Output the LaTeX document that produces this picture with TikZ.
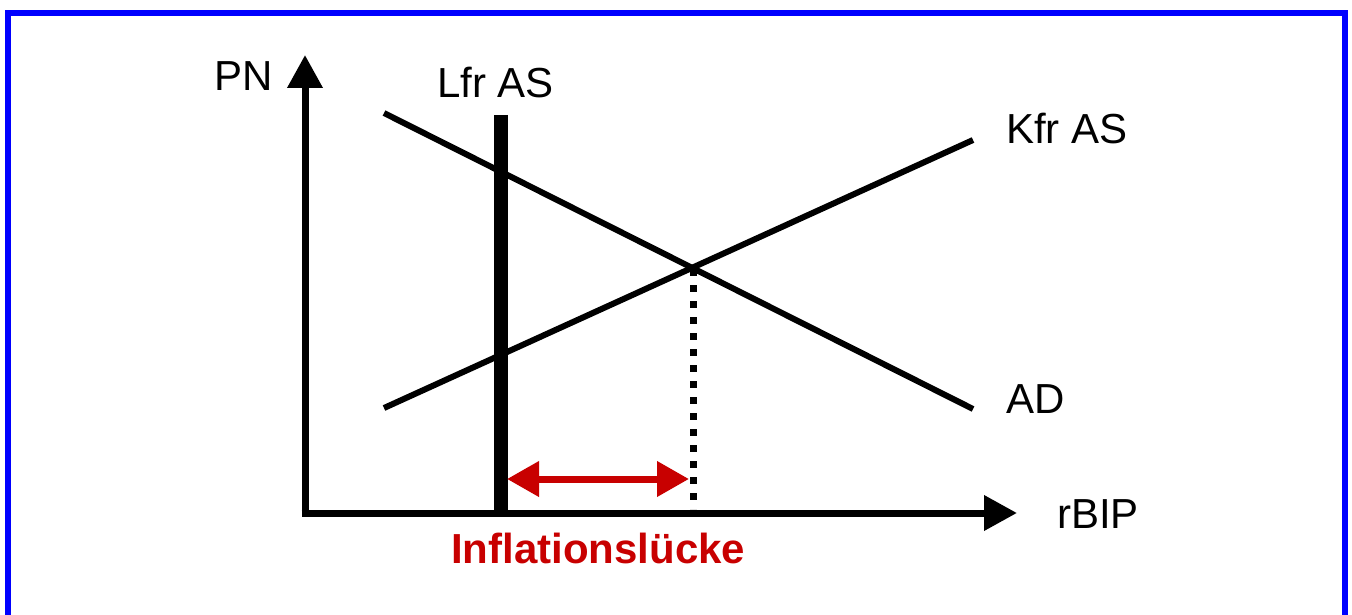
\documentclass[tikz,border=0pt]{standalone}
\usepackage{fontspec}
\setmainfont{Liberation Sans}
\usetikzlibrary{arrows.meta}
\definecolor{frame}{RGB}{0,0,255}
\definecolor{gapred}{RGB}{200,0,0}
\begin{document}
\begin{tikzpicture}[x=1pt,y=-1pt,
  lbl/.style={anchor=base west,inner sep=0pt,font=\fontsize{42}{48}\selectfont},
  axis/.style={line width=7pt,-{Triangle[length=33pt,width=34pt]}},
  curve/.style={line width=6pt},
  gaparrow/.style={gapred,line width=7pt,{Triangle[length=32pt,width=34pt]}-{Triangle[length=32pt,width=34pt]}}]
\useasboundingbox (0,0) rectangle (1352,615);
\begin{scope}
\clip (0,0) rectangle (1352,615);
\draw[frame,line width=6pt] (8,13) rectangle (1345,640);
\end{scope}
% coordinates
\coordinate (Oy) at (305,516.5);
\coordinate (Ytip) at (305,55);
\coordinate (Ox) at (301.5,513);
\coordinate (Xtip) at (1017,513);
\coordinate (ADa) at (384,113);
\coordinate (ADb) at (973,409);
\coordinate (KSa) at (384,408);
\coordinate (KSb) at (973,140);
\coordinate (LSa) at (501,115);
\coordinate (LSb) at (501,513);
\coordinate (E) at (693,269);
\coordinate (Eb) at (693,509);
\coordinate (Ga) at (507,479);
\coordinate (Gb) at (689,479);
% axes
\draw[axis] (Oy) -- (Ytip);
\draw[axis] (Ox) -- (Xtip);
% curves
\draw[curve] (ADa) -- (ADb);
\draw[curve] (KSa) -- (KSb);
\draw[line width=14pt] (LSa) -- (LSb);
\draw[line width=7pt,dash pattern=on 7pt off 9pt] (E) -- (Eb);
\draw[gaparrow] (Ga) -- (Gb);
% labels
\node[lbl] (pn) at (214,91) {PN};
\node[lbl] (lfr) at (437,98) {Lfr AS};
\node[lbl] (kfr) at (1006,143) {Kfr AS};
\node[lbl] (ad) at (1006,413) {AD};
\node[lbl] (rbip) at (1057,528) {rBIP};
\node[lbl,text=gapred,font=\fontsize{42}{48}\selectfont\bfseries] (gap) at (451,563) {Inflationslücke};
\end{tikzpicture}
\end{document}
